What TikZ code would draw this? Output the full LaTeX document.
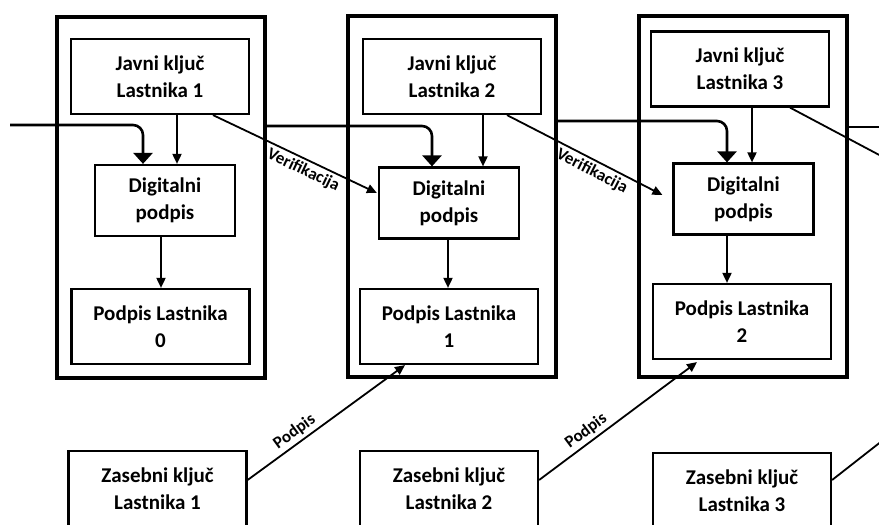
\documentclass[tikz,border=0pt]{standalone}
\usepackage{fontspec}
\setmainfont{Carlito}
\usetikzlibrary{arrows.meta,calc}
\tikzset{
    owner block/.style={
        draw, line width=4pt,
        minimum width=208pt, minimum height=361pt, inner sep=0pt
    },
    key box/.style={
        draw, line width=2.2pt, align=center, inner sep=0pt,
        minimum width=178pt, minimum height=75pt,
        font=\bfseries\fontsize{21}{27}\selectfont
    },
    sign box/.style={key box, minimum width=140pt, minimum height=71pt},
    chain link/.style={line width=2.6pt, rounded corners=10pt, -{Triangle[width=19pt,length=11pt]}},
    thin link/.style={line width=1.8pt, -{Triangle[width=9pt,length=10pt]}},
    arrow label/.style={font=\bfseries\fontsize{17}{20}\selectfont, sloped, inner sep=3pt}
}

\begin{document}
\begin{tikzpicture}[x=1pt, y=-1pt]
\useasboundingbox (0,0) rectangle (879,525);
\clip (0,0) rectangle (879,525);

% owner blocks
\node[owner block] (O1) at (161,197.5) {};
\node[owner block] (O2) at (452,196.5) {};
\node[owner block] (O3) at (743,196.5) {};

% public keys
\node[key box] (J1) at (160,76.5) {Javni ključ\\Lastnika 1};
\node[key box] (J2) at (452,76.5) {Javni ključ\\Lastnika 2};
\node[key box] (J3) at (740,69) {Javni ključ\\Lastnika 3};

% digital signatures
\node[sign box] (D1) at (165,200.5) {Digitalni\\podpis};
\node[sign box] (D2) at (449,203) {Digitalni\\podpis};
\node[sign box] (D3) at (743.5,199) {Digitalni\\podpis};

% owner signatures
\node[key box] (P0) at (160.5,326.5) {Podpis Lastnika\\0};
\node[key box] (P1) at (449,326.5) {Podpis Lastnika\\1};
\node[key box] (P2) at (742,321.5) {Podpis Lastnika\\2};

% private keys
\node[key box] (Z1) at (157.5,488.5) {Zasebni ključ\\Lastnika 1};
\node[key box] (Z2) at (449,488.5) {Zasebni ključ\\Lastnika 2};
\node[key box] (Z3) at (742,490.5) {Zasebni ključ\\Lastnika 3};

% loose ends
\coordinate (in0) at (10,125);
\coordinate (out3) at (900,127);
\coordinate (out3v) at (900,166);
\coordinate (out3s) at (910,419);

% chain
\draw[chain link] (in0) -| ([xshift=-22pt]D1.north);
\draw[chain link] (O1.east |- 0,126) -| ([xshift=-17pt]D2.north);
\draw[chain link] (O2.east |- 0,121) -| ([xshift=-16.5pt]D3.north);
\draw[line width=2.6pt] (O3.east |- 0,127) -- (out3);

% keys into signatures
\draw[thin link] ([xshift=17pt]J1.south) -- ([xshift=17pt]J1.south |- D1.north);
\draw[thin link] ([xshift=31pt]J2.south) -- ([xshift=31pt]J2.south |- D2.north);
\draw[thin link] ([xshift=12pt]J3.south) -- ([xshift=12pt]J3.south |- D3.north);

% signatures into owners
\draw[thin link] ([xshift=-4pt]D1.south) -- ([xshift=-4pt]D1.south |- P0.north);
\draw[thin link] ([xshift=-1pt]D2.south) -- ([xshift=-1pt]D2.south |- P1.north);
\draw[thin link] ([xshift=-16.5pt]D3.south) -- ([xshift=-16.5pt]D3.south |- P2.north);

% verification
\draw[thin link] ([xshift=53pt]J1.south) -- node[arrow label, below, pos=0.58] {Verifikacija} ([xshift=-1pt,yshift=10pt]D2.west);
\draw[thin link] ([xshift=55pt]J2.south) -- node[arrow label, below, pos=0.58] {Verifikacija} ([xshift=-10pt,yshift=4pt]D3.west);
\draw[line width=1.8pt] ([xshift=50pt]J3.south) -- (out3v);

% signing
\draw[thin link] ([yshift=8.5pt]Z1.east) -- node[arrow label, above, pos=0.34] {Podpis} ([xshift=-44pt]P1.south);
\draw[thin link] ([yshift=8.5pt]Z2.east) -- node[arrow label, above, pos=0.34] {Podpis} ([xshift=-45pt,yshift=-2pt]P2.south);
\draw[line width=1.8pt] ([yshift=10.5pt]Z3.east) -- (out3s);
\end{tikzpicture}
\end{document}
